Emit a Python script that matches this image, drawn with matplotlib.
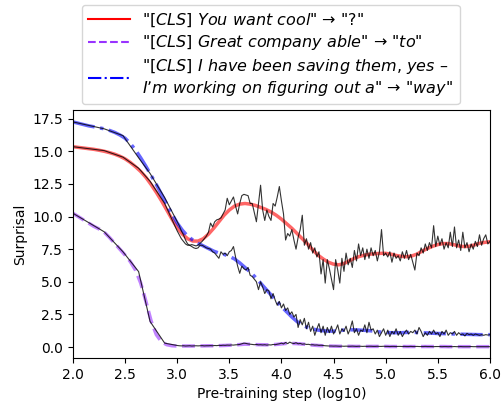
import matplotlib
matplotlib.use("Agg")
import matplotlib.pyplot as plt
from matplotlib.lines import Line2D

plt.rcParams["mathtext.fontset"] = "dejavusans"

# checkpoints (log10 of pre-training step) for the raw curves
raw_steps = [2.0, 2.3, 2.48, 2.63, 2.74, 2.88,
             3.00, 3.02, 3.04, 3.06, 3.08, 3.10, 3.12, 3.14, 3.16, 3.18,
             3.20, 3.22, 3.24, 3.26, 3.28, 3.30, 3.32, 3.34, 3.36, 3.38,
             3.40, 3.42, 3.44, 3.46, 3.48, 3.50, 3.52, 3.54, 3.56, 3.58,
             3.60, 3.62, 3.64, 3.66, 3.68, 3.70, 3.72, 3.74, 3.76, 3.78,
             3.80, 3.82, 3.84, 3.86, 3.88, 3.90, 3.92, 3.94, 3.96, 3.98,
             4.00, 4.02, 4.04, 4.06, 4.08, 4.10, 4.12, 4.14, 4.16, 4.18,
             4.20, 4.22, 4.24, 4.26, 4.28, 4.30, 4.32, 4.34, 4.36, 4.38,
             4.40, 4.42, 4.44, 4.46, 4.48, 4.50, 4.52, 4.54, 4.56, 4.58,
             4.60, 4.62, 4.64, 4.66, 4.68, 4.70, 4.72, 4.74, 4.76, 4.78,
             4.80, 4.82, 4.84, 4.86, 4.88, 4.90, 4.92, 4.94, 4.96, 4.98,
             5.00, 5.02, 5.04, 5.06, 5.08, 5.10, 5.12, 5.14, 5.16, 5.18,
             5.20, 5.22, 5.24, 5.26, 5.28, 5.30, 5.32, 5.34, 5.36, 5.38,
             5.40, 5.42, 5.44, 5.46, 5.48, 5.50, 5.52, 5.54, 5.56, 5.58,
             5.60, 5.62, 5.64, 5.66, 5.68, 5.70, 5.72, 5.74, 5.76, 5.78,
             5.80, 5.82, 5.84, 5.86, 5.88, 5.90, 5.92, 5.94, 5.96, 5.98,
             6.00]

raw_cool = [15.35, 15.05, 14.55, 13.7, 12.7, 11.0,
            8.9, 8.6, 8.3, 8.1, 7.9, 7.8, 7.8, 7.85, 7.8, 7.75,
            7.8, 7.95, 8.1, 8.3, 8.5, 8.8, 9.5, 9.2, 9.6, 9.75,
            9.8, 9.9, 10.2, 10.5, 11.4, 10.9, 11.2, 11.5, 10.8, 10.2,
            11.0, 11.6, 11.7, 11.65, 11.6, 11.0, 11.0, 10.3, 9.6, 11.0,
            12.4, 10.5, 9.7, 10.5, 10.0, 9.7, 11.0, 10.8, 11.5, 12.3,
            11.2, 10.2, 8.2, 8.7, 8.5, 9.0, 8.2, 7.5, 8.4, 9.0,
            10.1, 7.8, 8.3, 7.5, 8.0, 7.2, 7.6, 6.9, 7.3, 5.6,
            6.7, 4.9, 6.7, 6.0, 5.2, 4.4, 6.7, 5.9, 4.9, 6.8,
            5.8, 7.2, 6.3, 6.8, 6.1, 7.4, 6.6, 7.9, 7.0, 7.6,
            6.7, 7.5, 6.8, 7.6, 7.0, 7.4, 6.6, 7.3, 9.0, 7.0,
            7.2, 6.9, 7.3, 6.5, 7.2, 6.8, 7.0, 6.6, 7.3, 6.8,
            7.4, 6.7, 7.1, 6.5, 5.9, 7.2, 7.0, 7.6, 7.2, 7.9,
            7.4, 8.0, 7.6, 9.3, 7.7, 8.5, 7.8, 8.3, 7.5, 8.0,
            7.6, 8.8, 7.7, 9.2, 7.6, 8.2, 7.4, 8.8, 7.6, 8.0,
            7.3, 7.9, 7.5, 8.1, 7.7, 8.6, 7.8, 8.3, 8.6, 7.9,
            8.1]

raw_to = [10.25, 8.83, 7.3, 5.78, 1.96, 0.3,
          0.12, 0.1, 0.09, 0.1, 0.08, 0.09, 0.1, 0.08, 0.09, 0.1,
          0.09, 0.1, 0.11, 0.09, 0.1, 0.1, 0.11, 0.1, 0.12, 0.11,
          0.13, 0.12, 0.14, 0.13, 0.15, 0.14, 0.16, 0.15, 0.17, 0.18,
          0.2, 0.25, 0.3, 0.28, 0.24, 0.22, 0.2, 0.18, 0.2, 0.17,
          0.18, 0.16, 0.18, 0.15, 0.17, 0.16, 0.2, 0.18, 0.22, 0.25,
          0.3, 0.24, 0.35, 0.26, 0.38, 0.3, 0.27, 0.33, 0.25, 0.28,
          0.22, 0.24, 0.2, 0.21, 0.17, 0.18, 0.15, 0.16, 0.13, 0.14,
          0.12, 0.1, 0.09, 0.08, 0.08, 0.07, 0.08, 0.07, 0.06, 0.07,
          0.06, 0.07, 0.06, 0.06, 0.07, 0.06, 0.05, 0.06, 0.06, 0.05,
          0.06, 0.05, 0.06, 0.06, 0.05, 0.05, 0.06, 0.05, 0.05, 0.06,
          0.05, 0.05, 0.04, 0.05, 0.05, 0.04, 0.05, 0.05, 0.04, 0.05,
          0.04, 0.04, 0.05, 0.04, 0.04, 0.05, 0.04, 0.04, 0.04, 0.05,
          0.04, 0.04, 0.04, 0.03, 0.04, 0.04, 0.04, 0.03, 0.04, 0.04,
          0.03, 0.04, 0.03, 0.04, 0.03, 0.03, 0.04, 0.03, 0.03, 0.03,
          0.03, 0.04, 0.03, 0.03, 0.03, 0.03, 0.03, 0.03, 0.03, 0.03,
          0.03]

raw_way = [17.25, 16.72, 16.2, 14.5, 13.3, 11.45,
           9.6, 9.3, 8.9, 8.6, 8.2, 7.9, 7.8, 7.7, 7.6, 7.55,
           7.6, 7.8, 7.8, 7.7, 7.6, 7.55, 7.5, 7.3, 7.2, 7.0,
           6.8, 7.3, 7.1, 7.2, 7.0, 7.3, 7.4, 7.7, 6.9, 6.2,
           5.65, 6.2, 6.0, 5.9, 6.1, 5.5, 5.4, 5.2, 5.0, 4.4,
           5.0, 4.6, 4.1, 4.4, 4.3, 3.7, 4.1, 3.6, 3.2, 3.5,
           3.0, 3.3, 2.8, 3.0, 2.5, 2.7, 2.3, 2.5, 1.5, 2.1,
           1.7, 2.2, 1.4, 1.9, 1.2, 1.6, 0.9, 1.4, 1.8, 1.1,
           1.6, 0.9, 1.5, 1.1, 1.6, 1.0, 1.3, 1.7, 1.0, 1.4,
           1.2, 1.6, 1.0, 1.4, 2.0, 1.1, 1.4, 0.9, 1.3, 1.2,
           1.7, 1.1, 1.9, 1.3, 1.4, 1.0, 1.3, 0.8, 1.1, 1.4,
           0.9, 1.3, 0.8, 1.2, 1.0, 1.4, 0.9, 1.2, 0.8, 1.1,
           1.3, 1.0, 1.2, 1.1, 1.3, 1.0, 1.5, 1.2, 0.8, 1.1,
           0.9, 1.2, 1.0, 1.3, 1.0, 1.1, 0.8, 1.2, 1.0, 1.3,
           0.9, 1.1, 1.0, 1.2, 0.9, 1.1, 0.95, 1.0, 0.85, 1.05,
           0.95, 1.0, 0.9, 1.0, 0.95, 0.9, 0.95, 0.9, 0.95, 0.92,
           0.95]

# smoothed curves
smooth_steps = [2.00, 2.05, 2.10, 2.15, 2.20, 2.25, 2.30, 2.35, 2.40, 2.45,
                2.50, 2.55, 2.60, 2.65, 2.70, 2.75, 2.80, 2.85, 2.90, 2.95,
                3.00, 3.05, 3.10, 3.15, 3.20, 3.25, 3.30, 3.35, 3.40, 3.45,
                3.50, 3.55, 3.60, 3.65, 3.70, 3.75, 3.80, 3.85, 3.90, 3.95,
                4.00, 4.05, 4.10, 4.15, 4.20, 4.25, 4.30, 4.35, 4.40, 4.45,
                4.50, 4.55, 4.60, 4.65, 4.70, 4.75, 4.80, 4.85, 4.90, 4.95,
                5.00, 5.05, 5.10, 5.15, 5.20, 5.25, 5.30, 5.35, 5.40, 5.45,
                5.50, 5.55, 5.60, 5.65, 5.70, 5.75, 5.80, 5.85, 5.90, 5.95,
                6.00]

smooth_cool = [15.35, 15.3, 15.25, 15.2, 15.15, 15.08, 15.0, 14.9, 14.78, 14.62,
               14.42, 14.15, 13.82, 13.45, 13.0, 12.45, 11.85, 11.2, 10.5, 9.8,
               9.15, 8.65, 8.3, 8.12, 8.12, 8.3, 8.65, 9.1, 9.6, 10.1,
               10.5, 10.8, 10.95, 11.0, 10.95, 10.85, 10.7, 10.55, 10.35, 10.1,
               9.8, 9.45, 9.1, 8.7, 8.3, 7.9, 7.45, 7.05, 6.75, 6.5,
               6.35, 6.3, 6.4, 6.6, 6.8, 6.95, 7.05, 7.12, 7.15, 7.18,
               7.18, 7.12, 7.02, 6.95, 6.92, 6.98, 7.12, 7.35, 7.55, 7.72,
               7.85, 7.93, 7.93, 7.85, 7.75, 7.7, 7.72, 7.82, 7.95, 8.02,
               8.07]

smooth_to = [10.25, 10.0, 9.75, 9.5, 9.25, 9.05, 8.8, 8.4, 7.95, 7.5,
             7.05, 6.55, 5.9, 4.9, 3.5, 2.0, 0.95, 0.4, 0.18, 0.1,
             0.08, 0.08, 0.08, 0.08, 0.09, 0.09, 0.1, 0.1, 0.11, 0.12,
             0.14, 0.16, 0.19, 0.22, 0.21, 0.19, 0.18, 0.17, 0.18, 0.2,
             0.24, 0.28, 0.28, 0.26, 0.23, 0.19, 0.15, 0.12, 0.1, 0.08,
             0.07, 0.06, 0.06, 0.06, 0.05, 0.05, 0.05, 0.05, 0.05, 0.05,
             0.05, 0.04, 0.04, 0.04, 0.04, 0.04, 0.04, 0.04, 0.04, 0.04,
             0.04, 0.04, 0.03, 0.03, 0.03, 0.03, 0.03, 0.03, 0.03, 0.03,
             0.03]

smooth_way = [17.25, 17.15, 17.05, 16.95, 16.88, 16.8, 16.72, 16.6, 16.45, 16.25,
              16.0, 15.6, 15.1, 14.5, 13.85, 13.15, 12.45, 11.7, 10.95, 10.2,
              9.5, 8.95, 8.5, 8.2, 7.95, 7.75, 7.55, 7.35, 7.2, 7.1,
              6.95, 6.75, 6.45, 6.1, 5.75, 5.35, 4.9, 4.45, 4.0, 3.55,
              3.1, 2.7, 2.3, 1.95, 1.7, 1.5, 1.38, 1.3, 1.25, 1.22,
              1.22, 1.25, 1.3, 1.32, 1.32, 1.3, 1.28, 1.25, 1.2, 1.15,
              1.12, 1.1, 1.1, 1.1, 1.12, 1.12, 1.12, 1.1, 1.08, 1.06,
              1.04, 1.03, 1.02, 1.0, 0.99, 0.98, 0.97, 0.96, 0.95, 0.95,
              0.95]

labels = [
    r'"$\mathit{[CLS]\ You\ want\ cool}$" → "$\mathit{?}$"',
    r'"$\mathit{[CLS]\ Great\ company\ able}$" → "$\mathit{to}$"',
    r'"$\mathit{[CLS]\ I\ have\ been\ saving\ them{,}\ yes\ –}$' + "\n"
    + r'$\mathit{I’m\ working\ on\ figuring\ out\ a}$" → "$\mathit{way}$"',
]
colors = ["#ff0000", "#9933ff", "#0000ff"]
styles = ["-", "--", "-."]

fig, ax = plt.subplots(figsize=(5.03, 4.05), dpi=100)
fig.subplots_adjust(left=0.145, right=0.974, bottom=0.116, top=0.728)

for sm, raw, c, ls in zip([smooth_cool, smooth_to, smooth_way],
                          [raw_cool, raw_to, raw_way], colors, styles):
    ax.plot(smooth_steps, sm, color=c, ls=ls, lw=2.5, alpha=0.6, zorder=2)
    ax.plot(raw_steps, raw, color="black", lw=0.8, alpha=0.8, zorder=3)

ax.set_xlim(2.0, 6.0)
ax.set_ylim(-0.84, 18.15)
ax.set_xlabel("Pre-training step (log10)")
ax.set_ylabel("Surprisal")

handles = [Line2D([], [], color=c, ls=ls, lw=1.5) for c, ls in zip(colors, styles)]
fig.legend(handles, labels, loc="upper center", bbox_to_anchor=(0.538, 0.988),
           borderaxespad=0, fontsize=11.5, handlelength=2.6, labelspacing=0.3,
           borderpad=0.4)

fig.savefig("out.png", dpi=100)
